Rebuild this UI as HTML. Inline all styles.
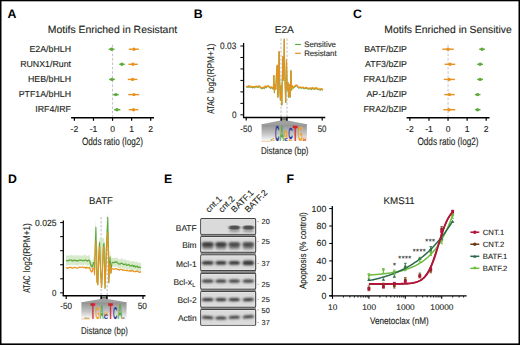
<!DOCTYPE html>
<html><head><meta charset="utf-8"><style>
html,body{margin:0;padding:0;background:#fff;}
svg{display:block;}
</style></head><body>
<svg width="520" height="345" viewBox="0 0 520 345">
<rect width="520" height="345" fill="#fff"/>
<g font-family='"Liberation Sans", sans-serif' fill="#231f20" text-rendering="geometricPrecision">
<rect x="0" y="0" width="520" height="1.3" fill="#000"/>
<rect x="0" y="0" width="1.5" height="345" fill="#000"/>
<rect x="518.5" y="0" width="1.5" height="345" fill="#000"/>
<rect x="0" y="343.4" width="520" height="1.6" fill="#000"/>
<text x="7.60" y="17.70" font-size="12.3" font-weight="bold" fill="#000">A</text>
<text x="193.80" y="18.00" font-size="12.3" font-weight="bold" fill="#000">B</text>
<text x="353.00" y="18.30" font-size="12.3" font-weight="bold" fill="#000">C</text>
<text x="8.10" y="183.20" font-size="12.3" font-weight="bold" fill="#000">D</text>
<text x="164.00" y="183.10" font-size="12.3" font-weight="bold" fill="#000">E</text>
<text x="286.60" y="183.30" font-size="12.3" font-weight="bold" fill="#000">F</text>
<text x="47.80" y="33.10" font-size="10.4" textLength="129.30" lengthAdjust="spacingAndGlyphs" stroke="#231f20" stroke-width="0.12">Motifs Enriched in Resistant</text>
<text x="71.00" y="51.70" font-size="8.8" text-anchor="end" stroke="#231f20" stroke-width="0.12">E2A/bHLH</text>
<text x="71.00" y="66.80" font-size="8.8" text-anchor="end" stroke="#231f20" stroke-width="0.12">RUNX1/Runt</text>
<text x="71.00" y="81.90" font-size="8.8" text-anchor="end" stroke="#231f20" stroke-width="0.12">HEB/bHLH</text>
<text x="71.00" y="97.10" font-size="8.8" text-anchor="end" stroke="#231f20" stroke-width="0.12">PTF1A/bHLH</text>
<text x="71.00" y="112.20" font-size="8.8" text-anchor="end" stroke="#231f20" stroke-width="0.12">IRF4/IRF</text>
<line x1="112.55" y1="44.80" x2="112.55" y2="117.00" stroke="#bcbcc8" stroke-width="0.9" stroke-dasharray="2.6,1.8"/>
<line x1="108.73" y1="49.20" x2="114.46" y2="49.20" stroke="#5daa3a" stroke-width="1.4"/>
<circle cx="111.60" cy="49.2" r="1.7" fill="#5daa3a"/>
<line x1="128.77" y1="49.20" x2="138.88" y2="49.20" stroke="#e8921f" stroke-width="1.4"/>
<circle cx="133.92" cy="49.2" r="1.7" fill="#e8921f"/>
<line x1="119.23" y1="64.30" x2="124.76" y2="64.30" stroke="#5daa3a" stroke-width="1.4"/>
<circle cx="121.90" cy="64.3" r="1.7" fill="#5daa3a"/>
<line x1="128.39" y1="64.30" x2="137.74" y2="64.30" stroke="#e8921f" stroke-width="1.4"/>
<circle cx="132.97" cy="64.3" r="1.7" fill="#e8921f"/>
<line x1="109.12" y1="79.40" x2="114.84" y2="79.40" stroke="#5daa3a" stroke-width="1.4"/>
<circle cx="111.98" cy="79.4" r="1.7" fill="#5daa3a"/>
<line x1="127.81" y1="79.40" x2="137.35" y2="79.40" stroke="#e8921f" stroke-width="1.4"/>
<circle cx="132.58" cy="79.4" r="1.7" fill="#e8921f"/>
<line x1="113.12" y1="94.60" x2="118.85" y2="94.60" stroke="#5daa3a" stroke-width="1.4"/>
<circle cx="115.79" cy="94.6" r="1.7" fill="#5daa3a"/>
<line x1="128.20" y1="94.60" x2="139.26" y2="94.60" stroke="#e8921f" stroke-width="1.4"/>
<circle cx="133.92" cy="94.6" r="1.7" fill="#e8921f"/>
<line x1="114.08" y1="109.70" x2="120.37" y2="109.70" stroke="#5daa3a" stroke-width="1.4"/>
<circle cx="116.94" cy="109.7" r="1.7" fill="#5daa3a"/>
<line x1="128.77" y1="109.70" x2="138.31" y2="109.70" stroke="#e8921f" stroke-width="1.4"/>
<circle cx="133.54" cy="109.7" r="1.7" fill="#e8921f"/>
<line x1="71.09" y1="117.80" x2="154.01" y2="117.80" stroke="#000" stroke-width="1.4"/>
<line x1="74.39" y1="117.80" x2="74.39" y2="120.80" stroke="#000" stroke-width="1.2"/>
<text x="74.39" y="131.50" font-size="8.6" text-anchor="middle" stroke="#231f20" stroke-width="0.12">-2</text>
<line x1="93.47" y1="117.80" x2="93.47" y2="120.80" stroke="#000" stroke-width="1.2"/>
<text x="93.47" y="131.50" font-size="8.6" text-anchor="middle" stroke="#231f20" stroke-width="0.12">-1</text>
<line x1="112.55" y1="117.80" x2="112.55" y2="120.80" stroke="#000" stroke-width="1.2"/>
<text x="112.55" y="131.50" font-size="8.6" text-anchor="middle" stroke="#231f20" stroke-width="0.12">0</text>
<line x1="131.63" y1="117.80" x2="131.63" y2="120.80" stroke="#000" stroke-width="1.2"/>
<text x="131.63" y="131.50" font-size="8.6" text-anchor="middle" stroke="#231f20" stroke-width="0.12">1</text>
<line x1="150.71" y1="117.80" x2="150.71" y2="120.80" stroke="#000" stroke-width="1.2"/>
<text x="150.71" y="131.50" font-size="8.6" text-anchor="middle" stroke="#231f20" stroke-width="0.12">2</text>
<text x="81.90" y="145.40" font-size="10.6" textLength="61.20" lengthAdjust="spacingAndGlyphs" stroke="#231f20" stroke-width="0.12">Odds ratio (log2)</text>
<text x="384.30" y="33.10" font-size="10.4" textLength="127.40" lengthAdjust="spacingAndGlyphs" stroke="#231f20" stroke-width="0.12">Motifs Enriched in Sensitive</text>
<text x="407.00" y="51.70" font-size="8.8" text-anchor="end" stroke="#231f20" stroke-width="0.12">BATF/bZIP</text>
<text x="407.00" y="66.80" font-size="8.8" text-anchor="end" stroke="#231f20" stroke-width="0.12">ATF3/bZIP</text>
<text x="407.00" y="81.90" font-size="8.8" text-anchor="end" stroke="#231f20" stroke-width="0.12">FRA1/bZIP</text>
<text x="407.00" y="97.10" font-size="8.8" text-anchor="end" stroke="#231f20" stroke-width="0.12">AP-1/bZIP</text>
<text x="407.00" y="112.20" font-size="8.8" text-anchor="end" stroke="#231f20" stroke-width="0.12">FRA2/bZIP</text>
<line x1="448.05" y1="44.80" x2="448.05" y2="117.00" stroke="#bcbcc8" stroke-width="0.9" stroke-dasharray="2.6,1.8"/>
<line x1="479.15" y1="49.20" x2="484.87" y2="49.20" stroke="#5daa3a" stroke-width="1.4"/>
<circle cx="482.01" cy="49.2" r="1.7" fill="#5daa3a"/>
<line x1="442.33" y1="49.20" x2="453.77" y2="49.20" stroke="#e8921f" stroke-width="1.4"/>
<circle cx="448.05" cy="49.2" r="1.7" fill="#e8921f"/>
<line x1="477.24" y1="64.30" x2="482.97" y2="64.30" stroke="#5daa3a" stroke-width="1.4"/>
<circle cx="480.10" cy="64.3" r="1.7" fill="#5daa3a"/>
<line x1="444.62" y1="64.30" x2="455.30" y2="64.30" stroke="#e8921f" stroke-width="1.4"/>
<circle cx="449.96" cy="64.3" r="1.7" fill="#e8921f"/>
<line x1="477.24" y1="79.40" x2="482.97" y2="79.40" stroke="#5daa3a" stroke-width="1.4"/>
<circle cx="480.10" cy="79.4" r="1.7" fill="#5daa3a"/>
<line x1="443.85" y1="79.40" x2="454.92" y2="79.40" stroke="#e8921f" stroke-width="1.4"/>
<circle cx="449.19" cy="79.4" r="1.7" fill="#e8921f"/>
<line x1="474.95" y1="94.60" x2="480.49" y2="94.60" stroke="#5daa3a" stroke-width="1.4"/>
<circle cx="477.62" cy="94.6" r="1.7" fill="#5daa3a"/>
<line x1="444.23" y1="94.60" x2="454.73" y2="94.60" stroke="#e8921f" stroke-width="1.4"/>
<circle cx="449.39" cy="94.6" r="1.7" fill="#e8921f"/>
<line x1="474.95" y1="109.70" x2="480.49" y2="109.70" stroke="#5daa3a" stroke-width="1.4"/>
<circle cx="477.62" cy="109.7" r="1.7" fill="#5daa3a"/>
<line x1="443.28" y1="109.70" x2="455.30" y2="109.70" stroke="#e8921f" stroke-width="1.4"/>
<circle cx="449.00" cy="109.7" r="1.7" fill="#e8921f"/>
<line x1="406.59" y1="117.80" x2="489.51" y2="117.80" stroke="#000" stroke-width="1.4"/>
<line x1="409.89" y1="117.80" x2="409.89" y2="120.80" stroke="#000" stroke-width="1.2"/>
<text x="409.89" y="131.50" font-size="8.6" text-anchor="middle" stroke="#231f20" stroke-width="0.12">-2</text>
<line x1="428.97" y1="117.80" x2="428.97" y2="120.80" stroke="#000" stroke-width="1.2"/>
<text x="428.97" y="131.50" font-size="8.6" text-anchor="middle" stroke="#231f20" stroke-width="0.12">-1</text>
<line x1="448.05" y1="117.80" x2="448.05" y2="120.80" stroke="#000" stroke-width="1.2"/>
<text x="448.05" y="131.50" font-size="8.6" text-anchor="middle" stroke="#231f20" stroke-width="0.12">0</text>
<line x1="467.13" y1="117.80" x2="467.13" y2="120.80" stroke="#000" stroke-width="1.2"/>
<text x="467.13" y="131.50" font-size="8.6" text-anchor="middle" stroke="#231f20" stroke-width="0.12">1</text>
<line x1="486.21" y1="117.80" x2="486.21" y2="120.80" stroke="#000" stroke-width="1.2"/>
<text x="486.21" y="131.50" font-size="8.6" text-anchor="middle" stroke="#231f20" stroke-width="0.12">2</text>
<text x="417.40" y="145.40" font-size="10.6" textLength="61.20" lengthAdjust="spacingAndGlyphs" stroke="#231f20" stroke-width="0.12">Odds ratio (log2)</text>
<defs>
<linearGradient id="lg" x1="0" y1="0" x2="0" y2="1">
<stop offset="0" stop-color="#8e8e8e"/><stop offset="0.55" stop-color="#c4c4c4"/><stop offset="1" stop-color="#ffffff"/></linearGradient>
<filter id="bl" x="-20%" y="-80%" width="140%" height="260%"><feGaussianBlur stdDeviation="1.1 0.9"/></filter>
<filter id="bl2" x="-20%" y="-80%" width="140%" height="260%"><feGaussianBlur stdDeviation="0.9 0.6"/></filter>
</defs>
<text x="274.70" y="32.80" font-size="10.0" textLength="19.20" lengthAdjust="spacingAndGlyphs" stroke="#231f20" stroke-width="0.12">E2A</text>
<line x1="281.00" y1="38.50" x2="281.00" y2="117.00" stroke="#b4b4c4" stroke-width="0.9" stroke-dasharray="2.4,1.6"/>
<line x1="287.00" y1="38.50" x2="287.00" y2="117.00" stroke="#b4b4c4" stroke-width="0.9" stroke-dasharray="2.4,1.6"/>
<polyline points="246.30,87.37 247.20,86.75 248.10,87.39 249.00,86.23 249.90,87.14 250.80,87.08 251.70,86.83 252.60,87.90 253.50,87.17 254.40,87.80 255.30,86.90 256.20,86.63 257.10,86.97 258.00,87.59 258.90,86.41 259.80,86.83 260.70,87.87 261.60,88.70 262.50,88.14 263.40,87.73 264.30,88.53 265.20,86.54 266.10,87.75 267.00,86.62 267.90,86.45 268.80,86.65 269.70,87.30 270.60,88.47 271.50,87.43 272.40,88.06 272.50,89.00" fill="none" stroke="#5daa3a" stroke-width="1.2" stroke-linejoin="round"/>
<polyline points="293.00,88.50 293.40,87.65 294.30,87.24 295.20,86.42 296.10,85.61 297.00,85.67 297.90,87.20 298.80,88.12 299.70,87.73 300.60,87.60 301.50,88.15 302.40,87.98 303.30,87.77 304.20,88.73 305.10,88.62 306.00,87.87 306.90,88.53 307.80,88.51 308.70,89.20 309.60,89.01 310.50,88.28 311.40,89.59 312.30,88.11 313.20,88.71 314.10,89.39 315.00,88.37 315.90,89.04 316.80,88.30 317.70,89.50 318.60,89.74 319.50,89.46 320.40,90.07 321.30,89.12 322.20,89.88 323.10,89.76" fill="none" stroke="#5daa3a" stroke-width="1.2" stroke-linejoin="round"/>
<polyline points="272.50,89.00 273.30,89.50 273.80,75.50 274.40,93.10 275.20,84.50 275.80,89.50 276.50,72.50 277.30,65.30 277.90,97.50 278.60,70.50 279.20,51.70 279.80,88.50 280.40,100.50 281.10,85.50 281.80,105.30 282.40,75.50 283.00,56.50 283.50,80.50 283.90,60.50 284.30,39.20 284.80,75.50 285.70,102.70 286.50,60.10 287.20,90.50 287.90,82.50 288.60,97.50 289.30,84.50 290.00,97.50 290.90,70.80 291.60,90.50 292.30,85.50 293.00,88.50" fill="none" stroke="#5daa3a" stroke-width="1.0" stroke-linejoin="round"/>
<polyline points="246.30,86.77 247.20,86.15 248.10,86.79 249.00,85.63 249.90,86.54 250.80,86.48 251.70,86.23 252.60,87.30 253.50,86.57 254.40,87.20 255.30,86.30 256.20,86.03 257.10,86.37 258.00,86.99 258.90,85.81 259.80,86.23 260.70,87.27 261.60,88.10 262.50,87.54 263.40,87.13 264.30,87.93 265.20,85.94 266.10,87.15 267.00,86.02 267.90,85.85 268.80,86.05 269.70,86.70 270.60,87.87 271.50,86.83 272.40,87.46 272.50,88.50" fill="none" stroke="#e8921f" stroke-width="1.25" stroke-linejoin="round"/>
<polyline points="293.00,88.00 293.40,87.05 294.30,86.64 295.20,85.82 296.10,85.01 297.00,85.07 297.90,86.60 298.80,87.52 299.70,87.13 300.60,87.00 301.50,87.55 302.40,87.38 303.30,87.17 304.20,88.13 305.10,88.02 306.00,87.27 306.90,87.93 307.80,87.91 308.70,88.60 309.60,88.41 310.50,87.68 311.40,88.99 312.30,87.51 313.20,88.11 314.10,88.79 315.00,87.77 315.90,88.44 316.80,87.70 317.70,88.90 318.60,89.14 319.50,88.86 320.40,89.47 321.30,88.52 322.20,89.28 323.10,89.16" fill="none" stroke="#e8921f" stroke-width="1.25" stroke-linejoin="round"/>
<polyline points="272.50,88.50 273.30,89.00 273.80,75.00 274.40,92.60 275.20,84.00 275.80,89.00 276.50,72.00 277.30,64.80 277.90,97.00 278.60,70.00 279.20,51.20 279.80,88.00 280.40,100.00 281.10,85.00 281.80,104.80 282.40,75.00 283.00,56.00 283.50,80.00 283.90,60.00 284.30,38.70 284.80,75.00 285.70,102.20 286.50,59.60 287.20,90.00 287.90,82.00 288.60,97.00 289.30,84.00 290.00,97.00 290.90,70.30 291.60,90.00 292.30,85.00 293.00,88.00" fill="none" stroke="#e8921f" stroke-width="1.0" stroke-linejoin="round"/>
<line x1="243.60" y1="43.00" x2="243.60" y2="117.90" stroke="#000" stroke-width="1.3"/>
<line x1="240.40" y1="46.00" x2="243.60" y2="46.00" stroke="#000" stroke-width="1.0"/>
<line x1="240.40" y1="57.47" x2="243.60" y2="57.47" stroke="#000" stroke-width="1.0"/>
<line x1="240.40" y1="68.94" x2="243.60" y2="68.94" stroke="#000" stroke-width="1.0"/>
<line x1="240.40" y1="80.41" x2="243.60" y2="80.41" stroke="#000" stroke-width="1.0"/>
<line x1="240.40" y1="91.88" x2="243.60" y2="91.88" stroke="#000" stroke-width="1.0"/>
<line x1="240.40" y1="103.35" x2="243.60" y2="103.35" stroke="#000" stroke-width="1.0"/>
<line x1="240.40" y1="114.82" x2="243.60" y2="114.82" stroke="#000" stroke-width="1.0"/>
<text x="236.30" y="48.80" font-size="9.2" text-anchor="end" textLength="16.20" lengthAdjust="spacingAndGlyphs" stroke="#231f20" stroke-width="0.12">0.03</text>
<text x="236.60" y="117.60" font-size="9.2" text-anchor="end" textLength="4.60" lengthAdjust="spacingAndGlyphs" stroke="#231f20" stroke-width="0.12">0</text>
<text x="213.60" y="113.70" font-size="9.8" textLength="17.20" lengthAdjust="spacingAndGlyphs" stroke="#231f20" stroke-width="0.12" transform="rotate(-90 213.60 113.70)">ATAC</text>
<text x="213.60" y="93.10" font-size="9.8" textLength="49.50" lengthAdjust="spacingAndGlyphs" stroke="#231f20" stroke-width="0.12" transform="rotate(-90 213.60 93.10)">log2(RPM+1)</text>
<line x1="243.00" y1="117.40" x2="325.30" y2="117.40" stroke="#000" stroke-width="1.5"/>
<line x1="246.20" y1="117.40" x2="246.20" y2="120.60" stroke="#000" stroke-width="1.2"/>
<line x1="322.20" y1="117.40" x2="322.20" y2="120.60" stroke="#000" stroke-width="1.2"/>
<polygon points="280.5,118 287.7,118 287.7,120.6 306.9,124.2 261.6,124.2 280.5,120.6" fill="#a0a0a0"/>
<rect x="281.5" y="117.6" width="5.2" height="2.2" fill="#707070"/>
<line x1="281.20" y1="117.40" x2="281.20" y2="120.80" stroke="#000" stroke-width="1.4"/>
<line x1="286.90" y1="117.40" x2="286.90" y2="120.80" stroke="#000" stroke-width="1.4"/>
<text x="240.20" y="131.50" font-size="9.2" textLength="11.70" lengthAdjust="spacingAndGlyphs" stroke="#231f20" stroke-width="0.12">-50</text>
<text x="317.70" y="131.50" font-size="9.2" textLength="8.80" lengthAdjust="spacingAndGlyphs" stroke="#231f20" stroke-width="0.12">50</text>
<line x1="295.10" y1="44.50" x2="300.90" y2="44.50" stroke="#5daa3a" stroke-width="1.2"/>
<line x1="295.10" y1="53.30" x2="300.90" y2="53.30" stroke="#e8921f" stroke-width="1.2"/>
<text x="304.20" y="46.90" font-size="8.0" textLength="31.70" lengthAdjust="spacingAndGlyphs" stroke="#231f20" stroke-width="0.12">Sensitive</text>
<text x="304.20" y="55.70" font-size="8.0" textLength="32.40" lengthAdjust="spacingAndGlyphs" stroke="#231f20" stroke-width="0.12">Resistant</text>
<rect x="261.6" y="124.15" width="45.3" height="17.35" fill="url(#lg)"/>
<line x1="261.60" y1="141.30" x2="270.50" y2="141.30" stroke="#f0a060" stroke-width="0.6"/>
<text transform="translate(270.60,141.00) scale(0.324,0.370)" font-size="10" font-weight="bold" fill="#5aa838">a</text>
<text transform="translate(272.40,141.00) scale(0.396,0.593)" font-size="10" font-weight="bold" fill="#f0a21c">c</text>
<text transform="translate(275.10,141.00) scale(0.596,2.209)" font-size="10" font-weight="bold" fill="#2d3a9c">C</text>
<text transform="translate(279.40,141.00) scale(0.637,2.209)" font-size="10" font-weight="bold" fill="#5aa838">A</text>
<text transform="translate(284.00,137.30) scale(0.655,1.204)" font-size="10" font-weight="bold" fill="#f0a21c">g</text>
<text transform="translate(284.30,140.80) scale(0.647,0.556)" font-size="10" font-weight="bold" fill="#2d3a9c">c</text>
<text transform="translate(288.20,139.30) scale(0.623,1.619)" font-size="10" font-weight="bold" fill="#2d3a9c">C</text>
<text transform="translate(288.40,141.00) scale(0.683,0.333)" font-size="10" font-weight="bold" fill="#f0a21c">a</text>
<text transform="translate(292.80,141.00) scale(0.818,2.209)" font-size="10" font-weight="bold" fill="#d4202a">T</text>
<text transform="translate(297.90,140.60) scale(0.617,2.112)" font-size="10" font-weight="bold" fill="#f0a21c">G</text>
<text transform="translate(302.80,139.50) scale(0.573,0.481)" font-size="10" font-weight="bold" fill="#f0a21c">g</text>
<text transform="translate(302.80,141.20) scale(0.629,0.296)" font-size="10" font-weight="bold" fill="#d4202a">c</text>
<text x="261.10" y="153.80" font-size="9.9" textLength="47.40" lengthAdjust="spacingAndGlyphs" stroke="#231f20" stroke-width="0.12">Distance (bp)</text>
<text x="89.10" y="203.90" font-size="9.8" textLength="23.80" lengthAdjust="spacingAndGlyphs" stroke="#231f20" stroke-width="0.12">BATF</text>
<line x1="101.10" y1="217.00" x2="101.10" y2="295.50" stroke="#b4b4c4" stroke-width="0.9" stroke-dasharray="2.4,1.6"/>
<line x1="107.20" y1="217.00" x2="107.20" y2="295.50" stroke="#b4b4c4" stroke-width="0.9" stroke-dasharray="2.4,1.6"/>
<polygon points="66.00,255.10 66.90,255.89 67.80,255.22 68.70,255.81 69.60,255.46 70.50,255.01 71.40,254.75 72.30,256.11 73.20,254.65 74.10,255.27 75.00,256.12 75.90,254.67 76.80,255.21 77.70,255.51 78.60,255.73 79.50,255.14 80.40,255.78 81.30,255.41 82.20,255.86 83.10,254.79 84.00,255.85 84.90,254.79 85.80,254.70 86.70,255.43 87.60,256.20 88.50,254.89 89.40,254.79 90.40,259.50 92.20,262.00 93.80,256.00 95.90,219.00 97.00,250.00 99.60,238.00 104.00,238.00 105.50,250.00 107.80,212.00 109.00,250.00 110.00,252.00 111.50,258.00 113.00,258.11 113.90,258.19 114.80,257.47 115.70,257.51 116.60,257.49 117.50,257.88 118.40,259.46 119.30,258.82 120.20,259.58 121.10,258.48 122.00,258.49 122.90,259.03 123.80,260.04 124.70,259.42 125.60,259.10 126.50,260.57 127.40,260.50 128.30,260.26 129.20,260.26 130.10,261.72 131.00,261.16 131.90,261.06 132.80,260.91 133.70,262.03 134.60,260.74 135.50,262.42 136.40,261.82 137.30,261.45 138.20,262.93 139.10,262.17 140.00,262.87 140.90,263.22 140.90,272.70 140.00,271.81 139.10,271.69 138.20,271.75 137.30,270.36 136.40,270.40 135.50,271.53 134.60,269.76 133.70,270.81 132.80,269.95 131.90,270.81 131.00,269.81 130.10,270.31 129.20,269.66 128.30,269.18 127.40,269.78 126.50,270.05 125.60,268.19 124.70,268.96 123.80,269.02 122.90,268.69 122.00,267.69 121.10,267.54 120.20,268.63 119.30,268.29 118.40,268.52 117.50,267.10 116.60,266.40 115.70,266.70 114.80,266.53 113.90,266.91 113.00,266.76 111.50,268.00 110.00,261.00 108.80,285.00 107.80,222.00 105.10,290.00 104.00,246.00 101.60,289.00 99.60,246.00 97.00,284.00 95.90,230.00 93.80,266.00 92.20,270.50 90.40,267.50 89.40,265.45 88.50,265.06 87.60,265.70 86.70,265.74 85.80,264.35 84.90,264.81 84.00,264.93 83.10,265.50 82.20,265.34 81.30,265.04 80.40,264.80 79.50,264.42 78.60,265.26 77.70,266.10 76.80,264.96 75.90,265.27 75.00,265.36 74.10,264.83 73.20,264.82 72.30,265.68 71.40,265.02 70.50,265.08 69.60,265.05 68.70,265.11 67.80,265.33 66.90,265.42 66.00,265.77" fill="#d5e9c8" stroke="none" opacity="0.95"/>
<polyline points="66.00,260.71 66.90,260.56 67.80,260.81 68.70,260.44 69.60,260.14 70.50,260.08 71.40,260.01 72.30,261.05 73.20,260.40 74.10,260.15 75.00,260.72 75.90,260.42 76.80,260.62 77.70,261.16 78.60,260.45 79.50,259.99 80.40,260.38 81.30,260.04 82.20,260.76 83.10,260.41 84.00,260.55 84.90,260.38 85.80,259.93 86.70,260.66 87.60,261.11 88.50,260.13 89.40,260.36 90.40,263.50 91.40,266.50 92.20,266.80 93.00,264.50 93.80,262.00" fill="none" stroke="#5daa3a" stroke-width="1.25" stroke-linejoin="round"/>
<polyline points="112.20,262.00 113.00,262.56 113.90,262.69 114.80,261.92 115.70,262.30 116.60,261.95 117.50,262.50 118.40,263.79 119.30,263.93 120.20,264.14 121.10,263.14 122.00,263.28 122.90,264.14 123.80,264.66 124.70,264.54 125.60,263.80 126.50,265.30 127.40,265.22 128.30,264.48 129.20,264.90 130.10,266.10 131.00,265.37 131.90,266.06 132.80,265.28 133.70,266.70 134.60,265.66 135.50,267.17 136.40,266.34 137.30,266.17 138.20,267.69 139.10,267.15 140.00,267.18 140.90,267.98" fill="none" stroke="#5daa3a" stroke-width="1.25" stroke-linejoin="round"/>
<polyline points="93.80,262.00 94.60,270.00 95.40,240.00 95.90,227.30 96.40,250.00 97.00,281.70 97.80,284.80 98.60,260.00 99.60,242.40 100.60,270.00 101.60,287.50 102.60,265.00 103.40,245.00 104.00,243.30 104.60,270.00 105.10,288.20 106.00,260.00 107.10,232.00 107.80,217.20 108.40,250.00 108.80,282.70 109.40,266.00 110.00,256.80 110.50,263.00 110.90,273.20 111.50,266.00 112.20,262.00" fill="none" stroke="#5daa3a" stroke-width="1.05" stroke-linejoin="round"/>
<polyline points="66.00,267.64 66.90,267.91 67.80,268.34 68.70,267.92 69.60,267.20 70.50,267.37 71.40,267.63 72.30,268.17 73.20,268.20 74.10,267.35 75.00,267.39 75.90,267.79 76.80,267.85 77.70,268.06 78.60,267.57 79.50,267.14 80.40,267.12 81.30,267.52 82.20,267.24 83.10,267.21 84.00,267.68 84.90,267.39 85.80,268.29 86.70,267.09 87.60,267.96 88.50,268.05 89.40,267.34 90.40,270.00 91.40,272.00 92.20,271.50 93.00,268.00 93.80,268.00" fill="none" stroke="#e8921f" stroke-width="1.25" stroke-linejoin="round"/>
<polyline points="112.20,268.60 113.00,269.20 113.90,269.21 114.80,269.02 115.70,268.49 116.60,268.92 117.50,269.55 118.40,269.34 119.30,270.14 120.20,269.43 121.10,269.35 122.00,269.42 122.90,270.43 123.80,269.98 124.70,270.50 125.60,270.42 126.50,270.68 127.40,270.38 128.30,270.89 129.20,271.00 130.10,270.58 131.00,271.39 131.90,270.49 132.80,270.56 133.70,271.51 134.60,271.64 135.50,271.52 136.40,271.48 137.30,270.89 138.20,271.81 139.10,272.28 140.00,272.30 140.90,271.55" fill="none" stroke="#e8921f" stroke-width="1.25" stroke-linejoin="round"/>
<polyline points="93.80,268.00 94.60,275.00 95.40,250.00 95.90,241.00 96.40,255.00 97.00,281.70 97.80,284.80 98.60,265.00 99.60,246.80 100.60,272.00 101.60,287.50 102.60,270.00 103.40,248.00 104.00,246.00 104.60,272.00 105.10,288.20 106.00,265.00 107.10,240.00 107.80,232.30 108.40,255.00 108.80,282.70 109.40,270.00 110.00,263.60 110.50,267.00 110.90,273.20 111.50,270.00 112.20,268.60" fill="none" stroke="#e8921f" stroke-width="1.05" stroke-linejoin="round"/>
<line x1="63.30" y1="220.40" x2="63.30" y2="296.10" stroke="#000" stroke-width="1.3"/>
<line x1="60.10" y1="222.60" x2="63.30" y2="222.60" stroke="#000" stroke-width="1.0"/>
<line x1="60.10" y1="236.65" x2="63.30" y2="236.65" stroke="#000" stroke-width="1.0"/>
<line x1="60.10" y1="250.70" x2="63.30" y2="250.70" stroke="#000" stroke-width="1.0"/>
<line x1="60.10" y1="264.75" x2="63.30" y2="264.75" stroke="#000" stroke-width="1.0"/>
<line x1="60.10" y1="278.80" x2="63.30" y2="278.80" stroke="#000" stroke-width="1.0"/>
<line x1="60.10" y1="292.85" x2="63.30" y2="292.85" stroke="#000" stroke-width="1.0"/>
<text x="56.50" y="225.80" font-size="9.0" text-anchor="end" textLength="21.50" lengthAdjust="spacingAndGlyphs" stroke="#231f20" stroke-width="0.12">0.025</text>
<text x="56.40" y="295.80" font-size="9.0" text-anchor="end" textLength="4.40" lengthAdjust="spacingAndGlyphs" stroke="#231f20" stroke-width="0.12">0</text>
<text x="29.60" y="292.80" font-size="9.8" textLength="17.20" lengthAdjust="spacingAndGlyphs" stroke="#231f20" stroke-width="0.12" transform="rotate(-90 29.60 292.80)">ATAC</text>
<text x="29.60" y="272.20" font-size="9.8" textLength="49.10" lengthAdjust="spacingAndGlyphs" stroke="#231f20" stroke-width="0.12" transform="rotate(-90 29.60 272.20)">log2(RPM+1)</text>
<line x1="62.70" y1="295.80" x2="145.50" y2="295.80" stroke="#000" stroke-width="1.5"/>
<line x1="66.20" y1="295.80" x2="66.20" y2="298.90" stroke="#000" stroke-width="1.2"/>
<line x1="143.00" y1="295.80" x2="143.00" y2="298.90" stroke="#000" stroke-width="1.2"/>
<polygon points="100.4,296.4 107.7,296.4 107.7,298.9 126.6,302.2 81.4,302.2 100.4,298.9" fill="#a0a0a0"/>
<rect x="101.5" y="296" width="5.2" height="2.2" fill="#707070"/>
<line x1="101.20" y1="295.80" x2="101.20" y2="299.10" stroke="#000" stroke-width="1.4"/>
<line x1="106.90" y1="295.80" x2="106.90" y2="299.10" stroke="#000" stroke-width="1.4"/>
<text x="60.20" y="309.30" font-size="9.0" textLength="11.70" lengthAdjust="spacingAndGlyphs" stroke="#231f20" stroke-width="0.12">-50</text>
<text x="137.70" y="309.40" font-size="9.0" textLength="9.20" lengthAdjust="spacingAndGlyphs" stroke="#231f20" stroke-width="0.12">50</text>
<rect x="81.4" y="302.1" width="45.2" height="17.0" fill="url(#lg)"/>
<line x1="81.40" y1="319.00" x2="90.00" y2="319.00" stroke="#e8a070" stroke-width="0.6"/>
<text transform="translate(84.50,319.00) scale(0.450,0.333)" font-size="10" font-weight="bold" fill="#5aa838">c</text>
<text transform="translate(87.00,319.00) scale(0.450,0.333)" font-size="10" font-weight="bold" fill="#f0a21c">a</text>
<text transform="translate(90.50,318.90) scale(0.802,2.291)" font-size="10" font-weight="bold" fill="#d4202a">T</text>
<text transform="translate(95.40,318.60) scale(0.553,1.728)" font-size="10" font-weight="bold" fill="#f0a21c">G</text>
<text transform="translate(99.70,318.90) scale(0.526,2.058)" font-size="10" font-weight="bold" fill="#5aa838">A</text>
<text transform="translate(103.80,314.60) scale(0.720,0.481)" font-size="10" font-weight="bold" fill="#f0a21c">g</text>
<text transform="translate(103.80,318.50) scale(0.791,0.889)" font-size="10" font-weight="bold" fill="#2d3a9c">c</text>
<text transform="translate(108.30,318.90) scale(0.786,2.291)" font-size="10" font-weight="bold" fill="#d4202a">T</text>
<text transform="translate(113.10,318.60) scale(0.596,1.728)" font-size="10" font-weight="bold" fill="#2d3a9c">C</text>
<text transform="translate(117.40,318.90) scale(0.679,2.195)" font-size="10" font-weight="bold" fill="#5aa838">A</text>
<text transform="translate(122.60,319.00) scale(0.468,0.333)" font-size="10" font-weight="bold" fill="#d4202a">c</text>
<text x="81.00" y="334.40" font-size="10.0" textLength="47.00" lengthAdjust="spacingAndGlyphs" stroke="#231f20" stroke-width="0.12">Distance (bp)</text>
<text x="209.00" y="212.90" font-size="8.7" stroke="#231f20" stroke-width="0.12" transform="rotate(-45 209.00 212.90)">cnt.1</text>
<text x="221.90" y="212.90" font-size="8.7" stroke="#231f20" stroke-width="0.12" transform="rotate(-45 221.90 212.90)">cnt.2</text>
<text x="234.60" y="212.90" font-size="8.7" stroke="#231f20" stroke-width="0.12" transform="rotate(-45 234.60 212.90)">BATF.1</text>
<text x="248.20" y="213.10" font-size="8.7" stroke="#231f20" stroke-width="0.12" transform="rotate(-45 248.20 213.10)">BATF.2</text>
<rect x="200.6" y="219" width="55.2" height="105.8" fill="#8f8f8f"/>
<rect x="200.75" y="218.65" width="54.9" height="15.60" fill="#dadada" stroke="#454545" stroke-width="1.1" rx="1"/>
<rect x="201.75" y="219.65" width="52.9" height="13.60" fill="none" stroke="#e6e6e6" stroke-width="0.8"/>
<rect x="200.75" y="236.55" width="54.9" height="15.60" fill="#dadada" stroke="#454545" stroke-width="1.1" rx="1"/>
<rect x="201.75" y="237.55" width="52.9" height="13.60" fill="none" stroke="#e6e6e6" stroke-width="0.8"/>
<rect x="200.75" y="254.95" width="54.9" height="15.60" fill="#dadada" stroke="#454545" stroke-width="1.1" rx="1"/>
<rect x="201.75" y="255.95" width="52.9" height="13.60" fill="none" stroke="#e6e6e6" stroke-width="0.8"/>
<rect x="200.75" y="273.35" width="54.9" height="15.60" fill="#dadada" stroke="#454545" stroke-width="1.1" rx="1"/>
<rect x="201.75" y="274.35" width="52.9" height="13.60" fill="none" stroke="#e6e6e6" stroke-width="0.8"/>
<rect x="200.75" y="291.45" width="54.9" height="15.60" fill="#dadada" stroke="#454545" stroke-width="1.1" rx="1"/>
<rect x="201.75" y="292.45" width="52.9" height="13.60" fill="none" stroke="#e6e6e6" stroke-width="0.8"/>
<rect x="200.75" y="309.45" width="54.9" height="15.80" fill="#dadada" stroke="#454545" stroke-width="1.1" rx="1"/>
<rect x="201.75" y="310.45" width="52.9" height="13.80" fill="none" stroke="#e6e6e6" stroke-width="0.8"/>
<rect x="229.00" y="229.00" width="10.80" height="3.20" rx="3.2" ry="1.60" fill="#8e8e8e" opacity="0.85" filter="url(#bl)"/>
<rect x="228.80" y="225.40" width="11.20" height="4.00" rx="3.2" ry="2.00" fill="#454545" opacity="0.9" filter="url(#bl2)"/>
<rect x="243.00" y="229.00" width="10.80" height="3.20" rx="3.2" ry="1.60" fill="#8e8e8e" opacity="0.85" filter="url(#bl)"/>
<rect x="242.80" y="225.40" width="11.20" height="4.00" rx="3.2" ry="2.00" fill="#454545" opacity="0.9" filter="url(#bl2)"/>
<rect x="202.10" y="245.60" width="11.20" height="4.00" rx="3.2" ry="2.00" fill="#7a7a7a" opacity="0.75" filter="url(#bl)"/>
<rect x="201.60" y="242.10" width="12.20" height="4.80" rx="3.2" ry="2.40" fill="#333333" opacity="0.9" filter="url(#bl)"/>
<rect x="215.70" y="245.60" width="10.60" height="4.00" rx="3.2" ry="2.00" fill="#7a7a7a" opacity="0.75" filter="url(#bl)"/>
<rect x="215.20" y="242.10" width="11.60" height="4.80" rx="3.2" ry="2.40" fill="#333333" opacity="0.9" filter="url(#bl)"/>
<rect x="228.90" y="245.60" width="10.80" height="4.00" rx="3.2" ry="2.00" fill="#7a7a7a" opacity="0.75" filter="url(#bl)"/>
<rect x="228.40" y="242.10" width="11.80" height="4.80" rx="3.2" ry="2.40" fill="#333333" opacity="0.82" filter="url(#bl)"/>
<rect x="242.90" y="245.60" width="10.80" height="4.00" rx="3.2" ry="2.00" fill="#7a7a7a" opacity="0.75" filter="url(#bl)"/>
<rect x="242.40" y="242.10" width="11.80" height="4.80" rx="3.2" ry="2.40" fill="#333333" opacity="0.82" filter="url(#bl)"/>
<rect x="201.80" y="261.10" width="11.80" height="3.60" rx="3.2" ry="1.80" fill="#2a2a2a" opacity="0.92" filter="url(#bl)"/>
<rect x="215.40" y="261.10" width="11.20" height="3.60" rx="3.2" ry="1.80" fill="#2a2a2a" opacity="0.92" filter="url(#bl)"/>
<rect x="228.60" y="261.10" width="11.40" height="3.60" rx="3.2" ry="1.80" fill="#2a2a2a" opacity="0.92" filter="url(#bl)"/>
<rect x="242.60" y="260.60" width="11.40" height="4.60" rx="3.2" ry="2.30" fill="#2a2a2a" opacity="0.92" filter="url(#bl)"/>
<rect x="201.80" y="279.50" width="11.80" height="3.20" rx="3.2" ry="1.60" fill="#2e2e2e" opacity="0.9" filter="url(#bl)"/>
<rect x="215.40" y="279.50" width="11.20" height="3.20" rx="3.2" ry="1.60" fill="#2e2e2e" opacity="0.9" filter="url(#bl)"/>
<rect x="228.60" y="279.50" width="11.40" height="3.20" rx="3.2" ry="1.60" fill="#2e2e2e" opacity="0.9" filter="url(#bl)"/>
<rect x="242.60" y="279.50" width="11.40" height="3.20" rx="3.2" ry="1.60" fill="#2e2e2e" opacity="0.9" filter="url(#bl)"/>
<rect x="201.80" y="297.90" width="11.80" height="3.40" rx="3.2" ry="1.70" fill="#2a2a2a" opacity="0.92" filter="url(#bl)"/>
<rect x="215.40" y="297.90" width="11.20" height="3.40" rx="3.2" ry="1.70" fill="#2a2a2a" opacity="0.92" filter="url(#bl)"/>
<rect x="228.60" y="297.90" width="11.40" height="3.40" rx="3.2" ry="1.70" fill="#2a2a2a" opacity="0.92" filter="url(#bl)"/>
<rect x="242.60" y="297.90" width="11.40" height="3.40" rx="3.2" ry="1.70" fill="#2a2a2a" opacity="0.92" filter="url(#bl)" transform="rotate(-2.5 248.30 299.60)"/>
<rect x="201.80" y="315.90" width="11.80" height="3.00" rx="3.2" ry="1.50" fill="#2c2c2c" opacity="0.9" filter="url(#bl)" transform="rotate(4 207.70 317.40)"/>
<rect x="215.40" y="316.40" width="11.20" height="3.00" rx="3.2" ry="1.50" fill="#2c2c2c" opacity="0.9" filter="url(#bl)"/>
<rect x="228.60" y="315.70" width="11.40" height="3.00" rx="3.2" ry="1.50" fill="#2c2c2c" opacity="0.9" filter="url(#bl)" transform="rotate(-2 234.30 317.20)"/>
<rect x="242.60" y="315.20" width="11.40" height="3.00" rx="3.2" ry="1.50" fill="#2c2c2c" opacity="0.9" filter="url(#bl)" transform="rotate(-4 248.30 316.70)"/>
<text x="196.60" y="230.55" font-size="8.4" text-anchor="end" stroke="#231f20" stroke-width="0.12">BATF</text>
<text x="196.60" y="248.45" font-size="8.4" text-anchor="end" stroke="#231f20" stroke-width="0.12">Bim</text>
<text x="196.60" y="266.85" font-size="8.4" text-anchor="end" stroke="#231f20" stroke-width="0.12">Mcl-1</text>
<text x="192.00" y="285.25" font-size="8.4" text-anchor="end" stroke="#231f20" stroke-width="0.12">Bcl-x</text>
<text x="192.20" y="287.25" font-size="5.6" stroke="#231f20" stroke-width="0.12">L</text>
<text x="196.60" y="303.35" font-size="8.4" text-anchor="end" stroke="#231f20" stroke-width="0.12">Bcl-2</text>
<text x="196.60" y="321.35" font-size="8.4" text-anchor="end" stroke="#231f20" stroke-width="0.12">Actin</text>
<line x1="257.20" y1="221.60" x2="259.20" y2="221.60" stroke="#999" stroke-width="0.6"/>
<text x="261.60" y="224.20" font-size="7.3" stroke="#231f20" stroke-width="0.12">20</text>
<line x1="257.20" y1="241.60" x2="259.20" y2="241.60" stroke="#999" stroke-width="0.6"/>
<text x="261.60" y="244.20" font-size="7.3" stroke="#231f20" stroke-width="0.12">25</text>
<line x1="257.20" y1="263.50" x2="259.20" y2="263.50" stroke="#999" stroke-width="0.6"/>
<text x="261.60" y="266.10" font-size="7.3" stroke="#231f20" stroke-width="0.12">37</text>
<line x1="257.20" y1="284.30" x2="259.20" y2="284.30" stroke="#999" stroke-width="0.6"/>
<text x="261.60" y="286.90" font-size="7.3" stroke="#231f20" stroke-width="0.12">25</text>
<line x1="257.20" y1="299.40" x2="259.20" y2="299.40" stroke="#999" stroke-width="0.6"/>
<text x="261.60" y="302.00" font-size="7.3" stroke="#231f20" stroke-width="0.12">25</text>
<line x1="257.20" y1="309.90" x2="259.20" y2="309.90" stroke="#999" stroke-width="0.6"/>
<text x="261.60" y="312.50" font-size="7.3" stroke="#231f20" stroke-width="0.12">50</text>
<line x1="257.20" y1="322.60" x2="259.20" y2="322.60" stroke="#999" stroke-width="0.6"/>
<text x="261.60" y="325.20" font-size="7.3" stroke="#231f20" stroke-width="0.12">37</text>
<text x="383.50" y="203.90" font-size="9.8" textLength="31.30" lengthAdjust="spacingAndGlyphs" stroke="#231f20" stroke-width="0.12">KMS11</text>
<line x1="332.30" y1="205.90" x2="332.30" y2="296.40" stroke="#000" stroke-width="1.3"/>
<line x1="329.20" y1="295.80" x2="332.30" y2="295.80" stroke="#000" stroke-width="1.0"/>
<text x="326.30" y="298.70" font-size="8.8" text-anchor="end" stroke="#231f20" stroke-width="0.12">0</text>
<line x1="329.20" y1="278.36" x2="332.30" y2="278.36" stroke="#000" stroke-width="1.0"/>
<text x="326.30" y="281.26" font-size="8.8" text-anchor="end" stroke="#231f20" stroke-width="0.12">20</text>
<line x1="329.20" y1="260.92" x2="332.30" y2="260.92" stroke="#000" stroke-width="1.0"/>
<text x="326.30" y="263.82" font-size="8.8" text-anchor="end" stroke="#231f20" stroke-width="0.12">40</text>
<line x1="329.20" y1="243.48" x2="332.30" y2="243.48" stroke="#000" stroke-width="1.0"/>
<text x="326.30" y="246.38" font-size="8.8" text-anchor="end" stroke="#231f20" stroke-width="0.12">60</text>
<line x1="329.20" y1="226.04" x2="332.30" y2="226.04" stroke="#000" stroke-width="1.0"/>
<text x="326.30" y="228.94" font-size="8.8" text-anchor="end" stroke="#231f20" stroke-width="0.12">80</text>
<line x1="329.20" y1="208.60" x2="332.30" y2="208.60" stroke="#000" stroke-width="1.0"/>
<text x="326.30" y="211.50" font-size="8.8" text-anchor="end" stroke="#231f20" stroke-width="0.12">100</text>
<text x="305.60" y="289.10" font-size="9.3" textLength="76.90" lengthAdjust="spacingAndGlyphs" stroke="#231f20" stroke-width="0.12" transform="rotate(-90 305.60 289.10)">Apoptosis (% control)</text>
<line x1="329.30" y1="295.90" x2="466.60" y2="295.90" stroke="#000" stroke-width="1.4"/>
<line x1="332.50" y1="295.90" x2="332.50" y2="298.80" stroke="#000" stroke-width="1.1"/>
<line x1="343.46" y1="295.90" x2="343.46" y2="297.60" stroke="#000" stroke-width="0.8"/>
<line x1="349.87" y1="295.90" x2="349.87" y2="297.60" stroke="#000" stroke-width="0.8"/>
<line x1="354.41" y1="295.90" x2="354.41" y2="297.60" stroke="#000" stroke-width="0.8"/>
<line x1="357.94" y1="295.90" x2="357.94" y2="297.60" stroke="#000" stroke-width="0.8"/>
<line x1="360.82" y1="295.90" x2="360.82" y2="297.60" stroke="#000" stroke-width="0.8"/>
<line x1="363.26" y1="295.90" x2="363.26" y2="297.60" stroke="#000" stroke-width="0.8"/>
<line x1="365.37" y1="295.90" x2="365.37" y2="297.60" stroke="#000" stroke-width="0.8"/>
<line x1="367.23" y1="295.90" x2="367.23" y2="297.60" stroke="#000" stroke-width="0.8"/>
<line x1="368.90" y1="295.90" x2="368.90" y2="298.80" stroke="#000" stroke-width="1.1"/>
<line x1="379.86" y1="295.90" x2="379.86" y2="297.60" stroke="#000" stroke-width="0.8"/>
<line x1="386.27" y1="295.90" x2="386.27" y2="297.60" stroke="#000" stroke-width="0.8"/>
<line x1="390.81" y1="295.90" x2="390.81" y2="297.60" stroke="#000" stroke-width="0.8"/>
<line x1="394.34" y1="295.90" x2="394.34" y2="297.60" stroke="#000" stroke-width="0.8"/>
<line x1="397.22" y1="295.90" x2="397.22" y2="297.60" stroke="#000" stroke-width="0.8"/>
<line x1="399.66" y1="295.90" x2="399.66" y2="297.60" stroke="#000" stroke-width="0.8"/>
<line x1="401.77" y1="295.90" x2="401.77" y2="297.60" stroke="#000" stroke-width="0.8"/>
<line x1="403.63" y1="295.90" x2="403.63" y2="297.60" stroke="#000" stroke-width="0.8"/>
<line x1="405.30" y1="295.90" x2="405.30" y2="298.80" stroke="#000" stroke-width="1.1"/>
<line x1="416.26" y1="295.90" x2="416.26" y2="297.60" stroke="#000" stroke-width="0.8"/>
<line x1="422.67" y1="295.90" x2="422.67" y2="297.60" stroke="#000" stroke-width="0.8"/>
<line x1="427.21" y1="295.90" x2="427.21" y2="297.60" stroke="#000" stroke-width="0.8"/>
<line x1="430.74" y1="295.90" x2="430.74" y2="297.60" stroke="#000" stroke-width="0.8"/>
<line x1="433.62" y1="295.90" x2="433.62" y2="297.60" stroke="#000" stroke-width="0.8"/>
<line x1="436.06" y1="295.90" x2="436.06" y2="297.60" stroke="#000" stroke-width="0.8"/>
<line x1="438.17" y1="295.90" x2="438.17" y2="297.60" stroke="#000" stroke-width="0.8"/>
<line x1="440.03" y1="295.90" x2="440.03" y2="297.60" stroke="#000" stroke-width="0.8"/>
<line x1="441.70" y1="295.90" x2="441.70" y2="298.80" stroke="#000" stroke-width="1.1"/>
<line x1="452.66" y1="295.90" x2="452.66" y2="297.60" stroke="#000" stroke-width="0.8"/>
<line x1="459.07" y1="295.90" x2="459.07" y2="297.60" stroke="#000" stroke-width="0.8"/>
<line x1="463.61" y1="295.90" x2="463.61" y2="297.60" stroke="#000" stroke-width="0.8"/>
<text x="332.70" y="309.70" font-size="8.3" text-anchor="middle" stroke="#231f20" stroke-width="0.12">10</text>
<text x="369.10" y="309.70" font-size="8.3" text-anchor="middle" stroke="#231f20" stroke-width="0.12">100</text>
<text x="405.50" y="309.70" font-size="8.3" text-anchor="middle" stroke="#231f20" stroke-width="0.12">1000</text>
<text x="441.90" y="309.70" font-size="8.3" text-anchor="middle" stroke="#231f20" stroke-width="0.12">10000</text>
<text x="370.00" y="323.80" font-size="9.6" textLength="58.80" lengthAdjust="spacingAndGlyphs" stroke="#231f20" stroke-width="0.12">Venetoclax (nM)</text>
<polyline points="368.90,284.20 369.95,284.20 370.99,284.20 372.04,284.20 373.09,284.20 374.13,284.20 375.18,284.20 376.23,284.20 377.28,284.20 378.32,284.20 379.37,284.20 380.42,284.20 381.46,284.20 382.51,284.19 383.56,284.19 384.60,284.19 385.65,284.19 386.70,284.19 387.75,284.18 388.79,284.18 389.84,284.17 390.89,284.17 391.93,284.16 392.98,284.16 394.03,284.15 395.07,284.14 396.12,284.13 397.17,284.11 398.21,284.09 399.26,284.07 400.31,284.05 401.36,284.02 402.40,283.99 403.45,283.95 404.50,283.90 405.54,283.84 406.59,283.77 407.64,283.69 408.68,283.60 409.73,283.49 410.78,283.35 411.83,283.19 412.87,283.01 413.92,282.79 414.97,282.53 416.01,282.22 417.06,281.86 418.11,281.44 419.15,280.94 420.20,280.35 421.25,279.67 422.29,278.88 423.34,277.96 424.39,276.89 425.44,275.67 426.48,274.27 427.53,272.68 428.58,270.88 429.62,268.86 430.67,266.62 431.72,264.16 432.76,261.48 433.81,258.60 434.86,255.54 435.91,252.34 436.95,249.03 438.00,245.66 439.05,242.28 440.09,238.93 441.14,235.68 442.19,232.55 443.23,229.58 444.28,226.81 445.33,224.24 446.37,221.90 447.42,219.78 448.47,217.88 449.52,216.20 450.56,214.71 451.61,213.40 452.66,212.27" fill="none" stroke="#6e3f17" stroke-width="1.4" stroke-linejoin="round"/>
<line x1="368.90" y1="285.90" x2="368.90" y2="290.70" stroke="#6e3f17" stroke-width="0.8"/>
<line x1="367.60" y1="285.90" x2="370.20" y2="285.90" stroke="#6e3f17" stroke-width="0.8"/>
<line x1="367.60" y1="290.70" x2="370.20" y2="290.70" stroke="#6e3f17" stroke-width="0.8"/>
<rect x="367.55" y="286.95" width="2.7" height="2.7" fill="#6e3f17"/>
<line x1="383.39" y1="283.20" x2="383.39" y2="288.00" stroke="#6e3f17" stroke-width="0.8"/>
<line x1="382.09" y1="283.20" x2="384.69" y2="283.20" stroke="#6e3f17" stroke-width="0.8"/>
<line x1="382.09" y1="288.00" x2="384.69" y2="288.00" stroke="#6e3f17" stroke-width="0.8"/>
<rect x="382.04" y="284.25" width="2.7" height="2.7" fill="#6e3f17"/>
<line x1="394.34" y1="283.20" x2="394.34" y2="288.00" stroke="#6e3f17" stroke-width="0.8"/>
<line x1="393.04" y1="283.20" x2="395.64" y2="283.20" stroke="#6e3f17" stroke-width="0.8"/>
<line x1="393.04" y1="288.00" x2="395.64" y2="288.00" stroke="#6e3f17" stroke-width="0.8"/>
<rect x="392.99" y="284.25" width="2.7" height="2.7" fill="#6e3f17"/>
<line x1="405.30" y1="277.60" x2="405.30" y2="282.40" stroke="#6e3f17" stroke-width="0.8"/>
<line x1="404.00" y1="277.60" x2="406.60" y2="277.60" stroke="#6e3f17" stroke-width="0.8"/>
<line x1="404.00" y1="282.40" x2="406.60" y2="282.40" stroke="#6e3f17" stroke-width="0.8"/>
<rect x="403.95" y="278.65" width="2.7" height="2.7" fill="#6e3f17"/>
<line x1="419.79" y1="273.10" x2="419.79" y2="277.90" stroke="#6e3f17" stroke-width="0.8"/>
<line x1="418.49" y1="273.10" x2="421.09" y2="273.10" stroke="#6e3f17" stroke-width="0.8"/>
<line x1="418.49" y1="277.90" x2="421.09" y2="277.90" stroke="#6e3f17" stroke-width="0.8"/>
<rect x="418.44" y="274.15" width="2.7" height="2.7" fill="#6e3f17"/>
<line x1="430.74" y1="268.00" x2="430.74" y2="272.80" stroke="#6e3f17" stroke-width="0.8"/>
<line x1="429.44" y1="268.00" x2="432.04" y2="268.00" stroke="#6e3f17" stroke-width="0.8"/>
<line x1="429.44" y1="272.80" x2="432.04" y2="272.80" stroke="#6e3f17" stroke-width="0.8"/>
<rect x="429.39" y="269.05" width="2.7" height="2.7" fill="#6e3f17"/>
<line x1="441.70" y1="226.60" x2="441.70" y2="231.40" stroke="#6e3f17" stroke-width="0.8"/>
<line x1="440.40" y1="226.60" x2="443.00" y2="226.60" stroke="#6e3f17" stroke-width="0.8"/>
<line x1="440.40" y1="231.40" x2="443.00" y2="231.40" stroke="#6e3f17" stroke-width="0.8"/>
<rect x="440.35" y="227.65" width="2.7" height="2.7" fill="#6e3f17"/>
<line x1="452.66" y1="210.60" x2="452.66" y2="215.40" stroke="#6e3f17" stroke-width="0.8"/>
<line x1="451.36" y1="210.60" x2="453.96" y2="210.60" stroke="#6e3f17" stroke-width="0.8"/>
<line x1="451.36" y1="215.40" x2="453.96" y2="215.40" stroke="#6e3f17" stroke-width="0.8"/>
<rect x="451.31" y="211.65" width="2.7" height="2.7" fill="#6e3f17"/>
<polyline points="368.90,275.03 369.95,274.97 370.99,274.91 372.04,274.84 373.09,274.77 374.13,274.70 375.18,274.62 376.23,274.54 377.28,274.46 378.32,274.37 379.37,274.27 380.42,274.17 381.46,274.07 382.51,273.96 383.56,273.85 384.60,273.73 385.65,273.60 386.70,273.47 387.75,273.33 388.79,273.19 389.84,273.04 390.89,272.87 391.93,272.71 392.98,272.53 394.03,272.34 395.07,272.15 396.12,271.94 397.17,271.72 398.21,271.50 399.26,271.26 400.31,271.01 401.36,270.75 402.40,270.47 403.45,270.18 404.50,269.87 405.54,269.55 406.59,269.22 407.64,268.86 408.68,268.49 409.73,268.10 410.78,267.69 411.83,267.26 412.87,266.81 413.92,266.33 414.97,265.83 416.01,265.31 417.06,264.76 418.11,264.18 419.15,263.57 420.20,262.93 421.25,262.26 422.29,261.55 423.34,260.81 424.39,260.03 425.44,259.21 426.48,258.35 427.53,257.45 428.58,256.50 429.62,255.51 430.67,254.46 431.72,253.36 432.76,252.21 433.81,250.99 434.86,249.72 435.91,248.38 436.95,246.97 438.00,245.49 439.05,243.94 440.09,242.31 441.14,240.59 442.19,238.79 443.23,236.90 444.28,234.91 445.33,232.83 446.37,230.63 447.42,228.33 448.47,225.91 449.52,223.37 450.56,220.69 451.61,217.89 452.66,214.94" fill="none" stroke="#6dbb3f" stroke-width="1.5" stroke-linejoin="round"/>
<polyline points="368.90,280.54 369.95,280.34 370.99,280.13 372.04,279.91 373.09,279.68 374.13,279.45 375.18,279.21 376.23,278.96 377.28,278.71 378.32,278.45 379.37,278.18 380.42,277.90 381.46,277.62 382.51,277.33 383.56,277.02 384.60,276.71 385.65,276.39 386.70,276.06 387.75,275.72 388.79,275.37 389.84,275.01 390.89,274.64 391.93,274.26 392.98,273.87 394.03,273.46 395.07,273.05 396.12,272.62 397.17,272.18 398.21,271.73 399.26,271.26 400.31,270.79 401.36,270.29 402.40,269.79 403.45,269.27 404.50,268.73 405.54,268.18 406.59,267.61 407.64,267.03 408.68,266.43 409.73,265.82 410.78,265.19 411.83,264.54 412.87,263.87 413.92,263.19 414.97,262.48 416.01,261.76 417.06,261.02 418.11,260.26 419.15,259.47 420.20,258.67 421.25,257.85 422.29,257.00 423.34,256.14 424.39,255.25 425.44,254.33 426.48,253.40 427.53,252.44 428.58,251.45 429.62,250.44 430.67,249.41 431.72,248.35 432.76,247.27 433.81,246.16 434.86,245.02 435.91,243.85 436.95,242.66 438.00,241.44 439.05,240.19 440.09,238.91 441.14,237.60 442.19,236.27 443.23,234.90 444.28,233.51 445.33,232.08 446.37,230.62 447.42,229.13 448.47,227.62 449.52,226.06 450.56,224.48 451.61,222.87 452.66,221.22" fill="none" stroke="#2c6a4c" stroke-width="1.5" stroke-linejoin="round"/>
<line x1="368.90" y1="273.70" x2="368.90" y2="278.30" stroke="#6dbb3f" stroke-width="0.9"/>
<line x1="367.60" y1="273.70" x2="370.20" y2="273.70" stroke="#6dbb3f" stroke-width="0.9"/>
<line x1="367.60" y1="278.30" x2="370.20" y2="278.30" stroke="#6dbb3f" stroke-width="0.9"/>
<polygon points="367.20,274.52 370.60,274.52 368.90,277.48" fill="#6dbb3f"/>
<line x1="383.39" y1="268.50" x2="383.39" y2="273.10" stroke="#6dbb3f" stroke-width="0.9"/>
<line x1="382.09" y1="268.50" x2="384.69" y2="268.50" stroke="#6dbb3f" stroke-width="0.9"/>
<line x1="382.09" y1="273.10" x2="384.69" y2="273.10" stroke="#6dbb3f" stroke-width="0.9"/>
<polygon points="381.69,269.32 385.09,269.32 383.39,272.28" fill="#6dbb3f"/>
<line x1="394.34" y1="270.10" x2="394.34" y2="274.70" stroke="#6dbb3f" stroke-width="0.9"/>
<line x1="393.04" y1="270.10" x2="395.64" y2="270.10" stroke="#6dbb3f" stroke-width="0.9"/>
<line x1="393.04" y1="274.70" x2="395.64" y2="274.70" stroke="#6dbb3f" stroke-width="0.9"/>
<polygon points="392.64,270.92 396.04,270.92 394.34,273.88" fill="#6dbb3f"/>
<line x1="405.30" y1="266.10" x2="405.30" y2="270.70" stroke="#6dbb3f" stroke-width="0.9"/>
<line x1="404.00" y1="266.10" x2="406.60" y2="266.10" stroke="#6dbb3f" stroke-width="0.9"/>
<line x1="404.00" y1="270.70" x2="406.60" y2="270.70" stroke="#6dbb3f" stroke-width="0.9"/>
<polygon points="403.60,266.92 407.00,266.92 405.30,269.88" fill="#6dbb3f"/>
<line x1="419.79" y1="257.30" x2="419.79" y2="261.90" stroke="#6dbb3f" stroke-width="0.9"/>
<line x1="418.49" y1="257.30" x2="421.09" y2="257.30" stroke="#6dbb3f" stroke-width="0.9"/>
<line x1="418.49" y1="261.90" x2="421.09" y2="261.90" stroke="#6dbb3f" stroke-width="0.9"/>
<polygon points="418.09,258.12 421.49,258.12 419.79,261.08" fill="#6dbb3f"/>
<line x1="430.74" y1="250.90" x2="430.74" y2="255.50" stroke="#6dbb3f" stroke-width="0.9"/>
<line x1="429.44" y1="250.90" x2="432.04" y2="250.90" stroke="#6dbb3f" stroke-width="0.9"/>
<line x1="429.44" y1="255.50" x2="432.04" y2="255.50" stroke="#6dbb3f" stroke-width="0.9"/>
<polygon points="429.04,251.72 432.44,251.72 430.74,254.68" fill="#6dbb3f"/>
<line x1="441.70" y1="239.10" x2="441.70" y2="243.70" stroke="#6dbb3f" stroke-width="0.9"/>
<line x1="440.40" y1="239.10" x2="443.00" y2="239.10" stroke="#6dbb3f" stroke-width="0.9"/>
<line x1="440.40" y1="243.70" x2="443.00" y2="243.70" stroke="#6dbb3f" stroke-width="0.9"/>
<polygon points="440.00,239.92 443.40,239.92 441.70,242.88" fill="#6dbb3f"/>
<line x1="452.66" y1="213.70" x2="452.66" y2="218.30" stroke="#6dbb3f" stroke-width="0.9"/>
<line x1="451.36" y1="213.70" x2="453.96" y2="213.70" stroke="#6dbb3f" stroke-width="0.9"/>
<line x1="451.36" y1="218.30" x2="453.96" y2="218.30" stroke="#6dbb3f" stroke-width="0.9"/>
<polygon points="450.96,214.52 454.36,214.52 452.66,217.48" fill="#6dbb3f"/>
<polygon points="367.20,281.08 370.60,281.08 368.90,278.12" fill="#2c6a4c"/>
<polygon points="381.69,280.68 385.09,280.68 383.39,277.72" fill="#2c6a4c"/>
<polygon points="392.64,277.68 396.04,277.68 394.34,274.72" fill="#2c6a4c"/>
<polygon points="403.60,267.68 407.00,267.68 405.30,264.72" fill="#2c6a4c"/>
<polygon points="418.09,259.68 421.49,259.68 419.79,256.72" fill="#2c6a4c"/>
<polygon points="429.04,250.28 432.44,250.28 430.74,247.32" fill="#2c6a4c"/>
<polygon points="440.00,239.68 443.40,239.68 441.70,236.72" fill="#2c6a4c"/>
<polygon points="450.96,222.68 454.36,222.68 452.66,219.72" fill="#2c6a4c"/>
<line x1="405.30" y1="263.30" x2="405.30" y2="268.60" stroke="#2c6a4c" stroke-width="0.9"/>
<line x1="404.00" y1="263.30" x2="406.60" y2="263.30" stroke="#2c6a4c" stroke-width="0.9"/>
<line x1="404.00" y1="268.60" x2="406.60" y2="268.60" stroke="#2c6a4c" stroke-width="0.9"/>
<line x1="430.74" y1="246.60" x2="430.74" y2="251.00" stroke="#2c6a4c" stroke-width="0.9"/>
<line x1="429.44" y1="246.60" x2="432.04" y2="246.60" stroke="#2c6a4c" stroke-width="0.9"/>
<line x1="429.44" y1="251.00" x2="432.04" y2="251.00" stroke="#2c6a4c" stroke-width="0.9"/>
<polyline points="368.90,283.91 369.95,283.91 370.99,283.91 372.04,283.90 373.09,283.90 374.13,283.90 375.18,283.90 376.23,283.90 377.28,283.90 378.32,283.90 379.37,283.90 380.42,283.90 381.46,283.90 382.51,283.90 383.56,283.90 384.60,283.90 385.65,283.90 386.70,283.89 387.75,283.89 388.79,283.89 389.84,283.88 390.89,283.88 391.93,283.88 392.98,283.87 394.03,283.86 395.07,283.85 396.12,283.84 397.17,283.83 398.21,283.82 399.26,283.80 400.31,283.78 401.36,283.76 402.40,283.73 403.45,283.70 404.50,283.66 405.54,283.61 406.59,283.55 407.64,283.48 408.68,283.40 409.73,283.30 410.78,283.19 411.83,283.05 412.87,282.89 413.92,282.70 414.97,282.47 416.01,282.20 417.06,281.88 418.11,281.50 419.15,281.05 420.20,280.52 421.25,279.90 422.29,279.17 423.34,278.33 424.39,277.34 425.44,276.20 426.48,274.88 427.53,273.37 428.58,271.66 429.62,269.72 430.67,267.55 431.72,265.14 432.76,262.51 433.81,259.65 434.86,256.59 435.91,253.36 436.95,250.01 438.00,246.57 439.05,243.09 440.09,239.64 441.14,236.26 442.19,233.01 443.23,229.91 444.28,227.01 445.33,224.33 446.37,221.88 447.42,219.67 448.47,217.69 449.52,215.93 450.56,214.38 451.61,213.03 452.66,211.85" fill="none" stroke="#b5123b" stroke-width="1.8" stroke-linejoin="round"/>
<rect x="367.50" y="287.50" width="2.8" height="2.8" fill="#b5123b"/>
<rect x="381.99" y="285.60" width="2.8" height="2.8" fill="#b5123b"/>
<rect x="392.94" y="281.90" width="2.8" height="2.8" fill="#b5123b"/>
<rect x="403.90" y="280.00" width="2.8" height="2.8" fill="#b5123b"/>
<rect x="418.39" y="274.80" width="2.8" height="2.8" fill="#b5123b"/>
<rect x="429.34" y="267.60" width="2.8" height="2.8" fill="#b5123b"/>
<rect x="440.30" y="230.20" width="2.8" height="2.8" fill="#b5123b"/>
<rect x="451.26" y="209.80" width="2.8" height="2.8" fill="#b5123b"/>
<line x1="441.70" y1="229.20" x2="441.70" y2="234.20" stroke="#b5123b" stroke-width="1.0"/>
<line x1="440.40" y1="229.20" x2="443.00" y2="229.20" stroke="#b5123b" stroke-width="1.0"/>
<line x1="440.40" y1="234.20" x2="443.00" y2="234.20" stroke="#b5123b" stroke-width="1.0"/>
<text x="398.30" y="261.30" font-size="7.4" fill="#222" stroke="#222" stroke-width="0.12">*</text>
<text x="401.65" y="261.30" font-size="7.4" fill="#222" stroke="#222" stroke-width="0.12">*</text>
<text x="405.00" y="261.30" font-size="7.4" fill="#222" stroke="#222" stroke-width="0.12">*</text>
<text x="408.35" y="261.30" font-size="7.4" fill="#222" stroke="#222" stroke-width="0.12">*</text>
<text x="412.70" y="253.80" font-size="7.4" fill="#222" stroke="#222" stroke-width="0.12">*</text>
<text x="416.05" y="253.80" font-size="7.4" fill="#222" stroke="#222" stroke-width="0.12">*</text>
<text x="419.40" y="253.80" font-size="7.4" fill="#222" stroke="#222" stroke-width="0.12">*</text>
<text x="422.75" y="253.80" font-size="7.4" fill="#222" stroke="#222" stroke-width="0.12">*</text>
<text x="425.30" y="244.20" font-size="7.4" fill="#222" stroke="#222" stroke-width="0.12">*</text>
<text x="428.65" y="244.20" font-size="7.4" fill="#222" stroke="#222" stroke-width="0.12">*</text>
<text x="432.00" y="244.20" font-size="7.4" fill="#222" stroke="#222" stroke-width="0.12">*</text>
<text x="392.90" y="267.50" font-size="7.4" fill="#222" stroke="#222" stroke-width="0.12">*</text>
<line x1="470.30" y1="232.20" x2="479.30" y2="232.20" stroke="#b5123b" stroke-width="1.5"/>
<circle cx="474.8" cy="232.20" r="1.8" fill="#b5123b"/>
<text x="482.80" y="234.90" font-size="7.6" textLength="21.40" lengthAdjust="spacingAndGlyphs" stroke="#231f20" stroke-width="0.12">CNT.1</text>
<line x1="470.30" y1="244.25" x2="479.30" y2="244.25" stroke="#6e3f17" stroke-width="1.5"/>
<circle cx="474.8" cy="244.25" r="1.8" fill="#6e3f17"/>
<text x="482.80" y="246.95" font-size="7.6" textLength="21.40" lengthAdjust="spacingAndGlyphs" stroke="#231f20" stroke-width="0.12">CNT.2</text>
<line x1="470.30" y1="256.30" x2="479.30" y2="256.30" stroke="#2c6a4c" stroke-width="1.5"/>
<polygon points="473.10,257.78 476.50,257.78 474.80,254.82" fill="#2c6a4c"/>
<text x="482.80" y="259.00" font-size="7.6" textLength="24.60" lengthAdjust="spacingAndGlyphs" stroke="#231f20" stroke-width="0.12">BATF.1</text>
<line x1="470.30" y1="268.35" x2="479.30" y2="268.35" stroke="#6dbb3f" stroke-width="1.5"/>
<polygon points="473.10,266.87 476.50,266.87 474.80,269.83" fill="#6dbb3f"/>
<text x="482.80" y="271.05" font-size="7.6" textLength="24.60" lengthAdjust="spacingAndGlyphs" stroke="#231f20" stroke-width="0.12">BATF.2</text>
</g></svg></body></html>
